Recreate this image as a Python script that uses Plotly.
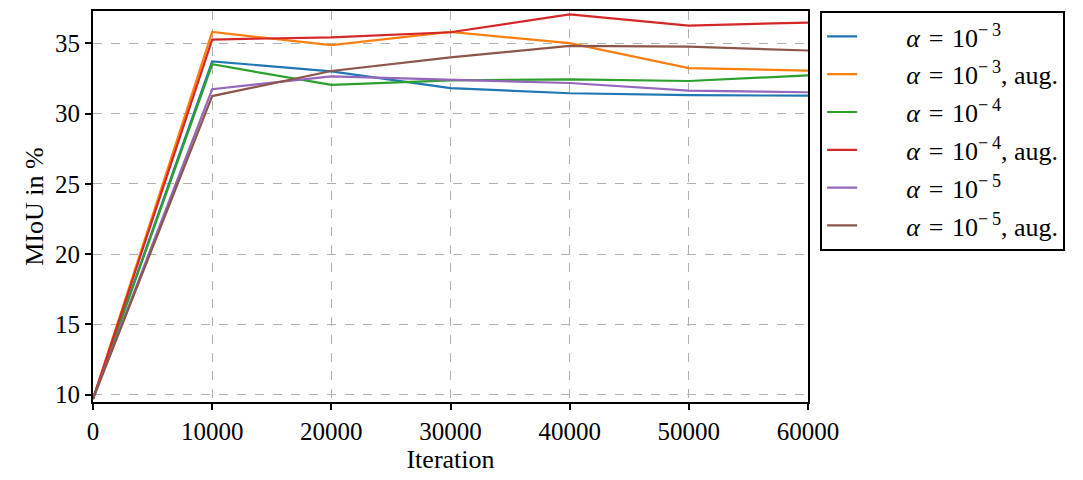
import plotly.graph_objects as go

iterations = [0, 10000, 20000, 30000, 40000, 50000, 60000]

lead = "\u2003\u2002\u2009"
labels = [
    lead + "<i>α</i>\u2004=\u200410<sup>−\u20093</sup>",
    lead + "<i>α</i>\u2004=\u200410<sup>−\u20093</sup>, aug.",
    lead + "<i>α</i>\u2004=\u200410<sup>−\u20094</sup>",
    lead + "<i>α</i>\u2004=\u200410<sup>−\u20094</sup>, aug.",
    lead + "<i>α</i>\u2004=\u200410<sup>−\u20095</sup>",
    lead + "<i>α</i>\u2004=\u200410<sup>−\u20095</sup>, aug.",
]

a3 = [9.7, 33.71, 33.0, 31.81, 31.44, 31.30, 31.27]
a3_aug = [9.7, 35.80, 34.86, 35.80, 35.00, 33.23, 33.05]
a4 = [9.7, 33.50, 32.03, 32.36, 32.43, 32.31, 32.71]
a4_aug = [9.7, 35.26, 35.42, 35.78, 37.05, 36.25, 36.47]
a5 = [9.7, 31.73, 32.64, 32.41, 32.17, 31.63, 31.51]
a5_aug = [9.7, 31.24, 33.02, 33.99, 34.81, 34.75, 34.48]

series = [a3, a3_aug, a4, a4_aug, a5, a5_aug]
colors = ["#1f77b4", "#ff7f0e", "#2ca02c", "#d62728", "#9467bd", "#8c564b"]

x_ticks = [0, 10000, 20000, 30000, 40000, 50000, 60000]
y_ticks = [10, 15, 20, 25, 30, 35]

font_family = "Liberation Serif, DejaVu Serif, serif"

fig = go.Figure()
for i, (name, ys, c) in enumerate(zip(labels, series, colors)):
    fig.add_trace(go.Scatter(x=iterations, y=ys, mode="lines", name=name,
                             legendgroup=f"g{i}",
                             line=dict(color=c, width=2.2)))

axis_common = dict(
    showline=True, linecolor="black", linewidth=2, mirror=True,
    ticks="outside", ticklen=6, tickwidth=2, tickcolor="black",
    showgrid=True, gridcolor="#b0b0b0", griddash="dash", gridwidth=1,
    zeroline=False, tickfont=dict(family=font_family, size=25, color="black"),
)

fig.update_layout(
    width=1083, height=480,
    margin=dict(l=93, r=275, t=9, b=78),
    plot_bgcolor="white", paper_bgcolor="white",
    font=dict(family=font_family, size=25, color="black"),
    xaxis=dict(range=[0, 60000], tickvals=x_ticks, ticktext=[str(v) for v in x_ticks],
               title=dict(text="Iteration", font=dict(size=26), standoff=4), **axis_common),
    yaxis=dict(range=[9.48, 37.29], tickvals=y_ticks, ticktext=[str(v) for v in y_ticks],
               title=dict(text="MIoU in %", font=dict(size=26), standoff=4), **axis_common),
    legend=dict(x=1.017, y=1.0, xanchor="left", yanchor="top",
                bordercolor="black", borderwidth=2, bgcolor="white",
                font=dict(family=font_family, size=26), tracegroupgap=1,
                itemwidth=30),
)

fig.write_html("out.html")
